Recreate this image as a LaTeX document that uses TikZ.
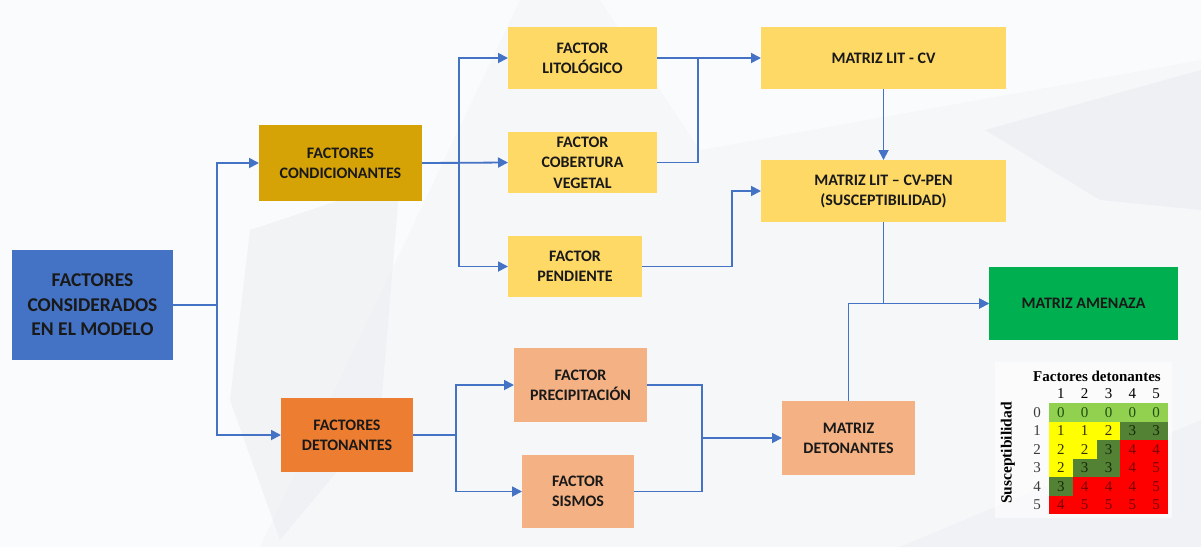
\documentclass[tikz,border=0pt]{standalone}
\usepackage{fontspec}
\setmainfont{Carlito}
\newfontfamily\tnr{Liberation Serif}
\usetikzlibrary{arrows.meta}
\definecolor{lineblue}{RGB}{68,114,196}
\definecolor{cblue}{RGB}{68,114,196}
\definecolor{cgold}{RGB}{214,163,6}
\definecolor{cyell}{RGB}{255,217,102}
\definecolor{corange}{RGB}{237,125,49}
\definecolor{clorange}{RGB}{244,177,131}
\definecolor{cgreen}{RGB}{0,176,80}
\definecolor{txt}{RGB}{25,25,25}
\definecolor{bgc}{RGB}{246,247,249}
\definecolor{bgd}{RGB}{234,236,240}
\definecolor{tg}{RGB}{146,208,80}
\definecolor{ty}{RGB}{255,255,0}
\definecolor{td}{RGB}{84,130,53}
\definecolor{tr}{RGB}{255,0,0}
\definecolor{tgt}{RGB}{30,80,20}
\definecolor{tyt}{RGB}{50,50,0}
\definecolor{tdt}{RGB}{20,40,10}
\definecolor{trt}{RGB}{120,0,0}
\definecolor{rowlab}{RGB}{60,60,60}
\begin{document}
\begin{tikzpicture}[x=1pt,y=-1pt,
  box/.style={rectangle,inner sep=0pt,outer sep=0pt,align=center,
    font=\bfseries\fontsize{16}{20}\selectfont,text=txt},
  conn/.style={draw=lineblue,line width=1.8pt},
  arr/.style={conn,-{Triangle[length=10pt,width=10pt]}},
  cell/.style={rectangle,inner sep=0pt,outer sep=0pt,minimum width=23.8pt,
    minimum height=18.5pt,font=\tnr\fontsize{15}{15}\selectfont}]
% background
\useasboundingbox (0,0) rectangle (1201,547);
\fill[bgc] (0,0) rectangle (1201,547);
\fill[white,opacity=0.5] (0,0) -- (520,0) -- (260,547) -- (0,547) -- cycle;
\fill[bgd,opacity=0.5] (250,230) -- (400,180) -- (380,420) -- (280,540) -- (230,400) -- cycle;
\fill[bgd,opacity=0.6] (985,130) -- (1201,70) -- (1201,210) -- (1100,200) -- cycle;
\fill[bgd,opacity=0.4] (900,547) -- (1201,420) -- (1201,547) -- cycle;
\fill[white,opacity=0.5] (600,0) -- (1201,0) -- (1201,60) -- (700,150) -- cycle;

% nodes
\node[box,fill=cblue,minimum width=161pt,minimum height=110pt,
  font=\bfseries\fontsize{19.5}{24.5}\selectfont] (cons) at (92.5,305)
  {FACTORES\\CONSIDERADOS\\EN EL MODELO};
\node[box,fill=cgold,minimum width=163pt,minimum height=76pt] (cond) at (340.5,163)
  {FACTORES\\CONDICIONANTES};
\node[box,fill=corange,minimum width=132pt,minimum height=74pt] (det) at (347,435)
  {FACTORES\\DETONANTES};
\node[box,fill=cyell,minimum width=149pt,minimum height=62pt] (lit) at (582.5,58)
  {FACTOR\\LITOLÓGICO};
\node[box,fill=cyell,minimum width=149pt,minimum height=61pt,
  font=\bfseries\fontsize{16}{20.5}\selectfont] (cob) at (582.5,162.5)
  {FACTOR\\COBERTURA\\VEGETAL};
\node[box,fill=cyell,minimum width=134pt,minimum height=61pt] (pen) at (575,266.5)
  {FACTOR\\PENDIENTE};
\node[box,fill=cyell,minimum width=245pt,minimum height=62pt] (mlc) at (883.5,58)
  {MATRIZ LIT - CV};
\node[box,fill=cyell,minimum width=245pt,minimum height=62pt] (mpen) at (883.5,191)
  {MATRIZ LIT -- CV-PEN\\(SUSCEPTIBILIDAD)};
\node[box,fill=cgreen,minimum width=189pt,minimum height=73pt] (amen) at (1083.5,303.5)
  {MATRIZ AMENAZA};
\node[box,fill=clorange,minimum width=133pt,minimum height=74pt] (prec) at (580.5,385)
  {FACTOR\\PRECIPITACIÓN};
\node[box,fill=clorange,minimum width=112pt,minimum height=73pt] (sis) at (578,491.5)
  {FACTOR\\SISMOS};
\node[box,fill=clorange,minimum width=133pt,minimum height=74pt] (mdet) at (848.5,438)
  {MATRIZ\\DETONANTES};

% junction coordinates
\coordinate (jlc) at (698,58);
\coordinate (jd) at (702,438);

% connectors
\draw[arr] (cons.east) -- ++(44,0) |- (cond.west);
\draw[arr] (cons.east) -- ++(44,0) |- (det.west);
\draw[arr] (cond.east) -- ++(37,0) |- (lit.west);
\draw[arr] (cond.east) -- (cob.west);
\draw[arr] (cond.east) -- ++(37,0) |- (pen.west);
\draw[arr] (lit.east) -- (mlc.west);
\draw[conn] (cob.east) -| (jlc);
\draw[arr] (pen.east) -- ++(90,0) |- (mpen.west);
\draw[arr] (mlc.south) -- (mpen.north);
\draw[arr] (mpen.south) |- (amen.west);
\draw[arr] (mdet.north) |- (amen.west);
\draw[arr] (det.east) -- ++(43,0) |- (prec.west);
\draw[arr] (det.east) -- ++(43,0) |- (sis.west);
\draw[conn] (prec.east) -| (jd);
\draw[conn] (sis.east) -| (jd);
\draw[arr] (jd) -- (mdet.west);

% table
\fill[white,opacity=0.6] (995,362) rectangle (1172,518);
\node[font=\tnr\bfseries\fontsize{15}{15}\selectfont] (ttitle) at (1097,376) {Factores detonantes};
\node[font=\tnr\bfseries\fontsize{15.5}{15.5}\selectfont,rotate=90] (tsus) at (1008,453) {Susceptibilidad};
\foreach \c in {1,...,5}{
  \node[font=\tnr\fontsize{15}{15}\selectfont] (col\c) at ({1049+23.8*(\c-0.5)},394) {\c};
}
\foreach \r in {0,...,5}{
  \node[font=\tnr\fontsize{15}{15}\selectfont,text=rowlab] (row\r) at (1037,{403+18.5*(\r+0.5)}) {\r};
}
\foreach \r/\row in {0/{0/g,0/g,0/g,0/g,0/g},
                     1/{1/y,1/y,2/y,3/d,3/d},
                     2/{2/y,2/y,3/d,4/r,4/r},
                     3/{2/y,3/d,3/d,4/r,5/r},
                     4/{3/d,4/r,4/r,4/r,5/r},
                     5/{4/r,5/r,5/r,5/r,5/r}}{
  \foreach \v/\k [count=\c] in \row {
    \node[cell,fill=t\k,text=t\k t] (c\r-\c) at ({1049+23.8*(\c-0.5)},{403+18.5*(\r+0.5)}) {\v};
  }
}
\end{tikzpicture}
\end{document}
